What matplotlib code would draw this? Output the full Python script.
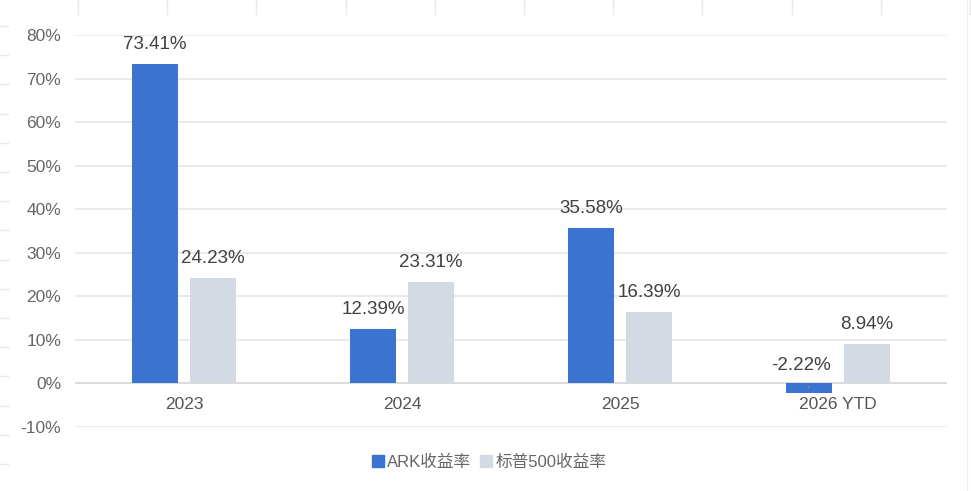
import numpy as np
import matplotlib
matplotlib.use('Agg')
import matplotlib.pyplot as plt
from matplotlib.lines import Line2D

plt.rcParams['font.family'] = ['Liberation Sans', 'Noto Sans CJK SC', 'DejaVu Sans']

# data
categories = ['2023', '2024', '2025', '2026 YTD']
ark = [73.41, 12.39, 35.58, -2.22]
spx = [24.23, 23.31, 16.39, 8.94]
series_names = ['ARK收益率', '标普500收益率']
yticks = [-10, 0, 10, 20, 30, 40, 50, 60, 70, 80]

blue = '#3a74d0'
gray = '#d3dae3'

fig = plt.figure(figsize=(9.71, 4.91), dpi=100)
ax = fig.add_axes([75/971, 1-426.7/491, 872/971, (426.7-35)/491])

x = np.arange(len(categories))
w = 0.211
off = 0.133
ax.bar(x - off, ark, w, color=blue, zorder=3, label=series_names[0])
ax.bar(x + off, spx, w, color=gray, zorder=3, label=series_names[1])

ax.set_xlim(-0.5, len(categories) - 0.5)
ax.set_ylim(-10, 80)
ax.set_yticks(yticks)
ax.set_yticklabels([f'{t}%' for t in yticks], color='#666666', fontsize=12.5)
ax.grid(axis='y', color='#e6e6e6', linewidth=1.2, zorder=0)
ax.axhline(0, color='#d9d9d9', linewidth=1.2, zorder=2)
for s in ax.spines.values():
    s.set_visible(False)
ax.tick_params(length=0, pad=10)
ax.set_xticks([])

# category labels just below the zero line
for i, c in enumerate(categories):
    ax.annotate(c, (i, 0), xytext=(0, -15), textcoords='offset points',
                ha='center', va='center', fontsize=12.5, color='#555555')

# value labels
for i, v in enumerate(ark):
    if v >= 0:
        ax.annotate(f'{v:.2f}%', (i - off, v), xytext=(0, 14), textcoords='offset points',
                    ha='center', va='center', fontsize=13.5, color='#404040')
    else:
        ax.annotate(f'{v:.2f}%', (i - off, v / 2), xytext=(-6, 16), textcoords='offset points',
                    ha='center', va='center', fontsize=13.5, color='#404040',
                    arrowprops=dict(arrowstyle='-', color='#888888', lw=0.8,
                                    shrinkA=7, shrinkB=0))
for i, v in enumerate(spx):
    ax.annotate(f'{v:.2f}%', (i + off, v), xytext=(0, 14), textcoords='offset points',
                ha='center', va='center', fontsize=13.5, color='#404040')

# legend
handles = [Line2D([], [], marker='s', linestyle='none', markersize=9, color=blue),
           Line2D([], [], marker='s', linestyle='none', markersize=9, color=gray)]
fig.legend(handles, series_names, loc='center', bbox_to_anchor=(488/971, 1-462/491),
           ncol=2, frameon=False, fontsize=12, labelcolor='#666666',
           handletextpad=0.05, columnspacing=0.4, handlelength=1.0)

# faint spreadsheet cell lines around the screenshot
for xv in np.arange(78, 971, 89.2):
    fig.add_artist(Line2D([xv/971, xv/971], [1, 1-14/491], color='#e8e8e8', lw=1))
for yv in np.arange(26, 491, 29.2):
    fig.add_artist(Line2D([0, 8/971], [1-yv/491, 1-yv/491], color='#e8e8e8', lw=1))
fig.add_artist(Line2D([967/971, 967/971], [0, 1], color='#f0f0f0', lw=1))

fig.savefig('out.png', dpi=100)
